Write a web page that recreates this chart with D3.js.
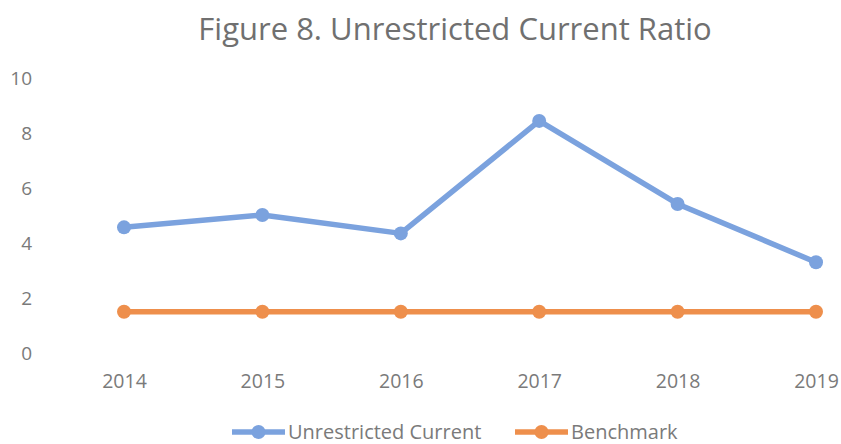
<!DOCTYPE html>
<html>
<head>
<meta charset="utf-8">
<script src="https://cdn.jsdelivr.net/npm/d3@7"></script>
<style>
  body { margin: 0; background: #fff; }
  text { font-family: "Open Sans", "Noto Sans", sans-serif; fill: #7a7a7a; }
</style>
</head>
<body>
<div id="chart"></div>
<script>
var years = ["2014", "2015", "2016", "2017", "2018", "2019"];
var unrestricted = [4.57, 5.02, 4.35, 8.44, 5.42, 3.3];
var benchmark = [1.5, 1.5, 1.5, 1.5, 1.5, 1.5];
var yTicks = [0, 2, 4, 6, 8, 10];

var W = 841, H = 444;
var margin = {top: 78, right: 25, bottom: 91, left: 124};
var width = W - margin.left - margin.right;
var height = H - margin.top - margin.bottom;

var svg = d3.select("#chart").append("svg")
    .attr("width", W)
    .attr("height", H);

svg.append("text")
    .attr("x", 455)
    .attr("y", 40)
    .attr("text-anchor", "middle")
    .style("font-size", "31px")
    .style("fill", "#707070")
    .text("Figure 8. Unrestricted Current Ratio");

var g = svg.append("g")
    .attr("transform", "translate(" + margin.left + "," + margin.top + ")");

var x = d3.scalePoint().domain(years).range([0, width]);
var y = d3.scaleLinear().domain([0, 10]).range([height, 0]);

var yAxis = d3.axisLeft(y).tickValues(yTicks).tickSize(0).tickPadding(0);
g.append("g")
    .attr("transform", "translate(" + (32 - margin.left) + ",0)")
    .call(yAxis)
    .call(function(a) { a.select(".domain").remove(); })
    .selectAll("text")
    .style("font-size", "19px");

var xAxis = d3.axisBottom(x).tickSize(0).tickPadding(0);
g.append("g")
    .attr("transform", "translate(0," + (height + 21) + ")")
    .call(xAxis)
    .call(function(a) { a.select(".domain").remove(); })
    .selectAll("text")
    .style("font-size", "19.5px");

var series = [
    {name: "Unrestricted Current", values: unrestricted, color: "#7ba2de"},
    {name: "Benchmark", values: benchmark, color: "#ee8f4c"}
];

var line = d3.line()
    .x(function(d, i) { return x(years[i]); })
    .y(function(d) { return y(d); });

series.forEach(function(s) {
    g.append("path")
        .datum(s.values)
        .attr("fill", "none")
        .attr("stroke", s.color)
        .attr("stroke-width", 5.5)
        .attr("stroke-linejoin", "round")
        .attr("d", line);
    g.selectAll(null)
        .data(s.values)
        .enter()
        .append("circle")
        .attr("cx", function(d, i) { return x(years[i]); })
        .attr("cy", function(d) { return y(d); })
        .attr("r", 7)
        .attr("fill", s.color);
});

// legend
var legendX = [232, 515];
var legend = svg.selectAll(".legend")
    .data(series)
    .enter()
    .append("g")
    .attr("class", "legend")
    .attr("transform", function(d, i) { return "translate(" + legendX[i] + ",432)"; });

legend.append("line")
    .attr("x1", 0).attr("x2", 53)
    .attr("stroke", function(d) { return d.color; })
    .attr("stroke-width", 5.5);
legend.append("circle")
    .attr("cx", 26.5)
    .attr("r", 7)
    .attr("fill", function(d) { return d.color; });
legend.append("text")
    .attr("x", 56)
    .attr("dy", "0.35em")
    .style("font-size", "20px")
    .text(function(d) { return d.name; });
</script>
</body>
</html>
